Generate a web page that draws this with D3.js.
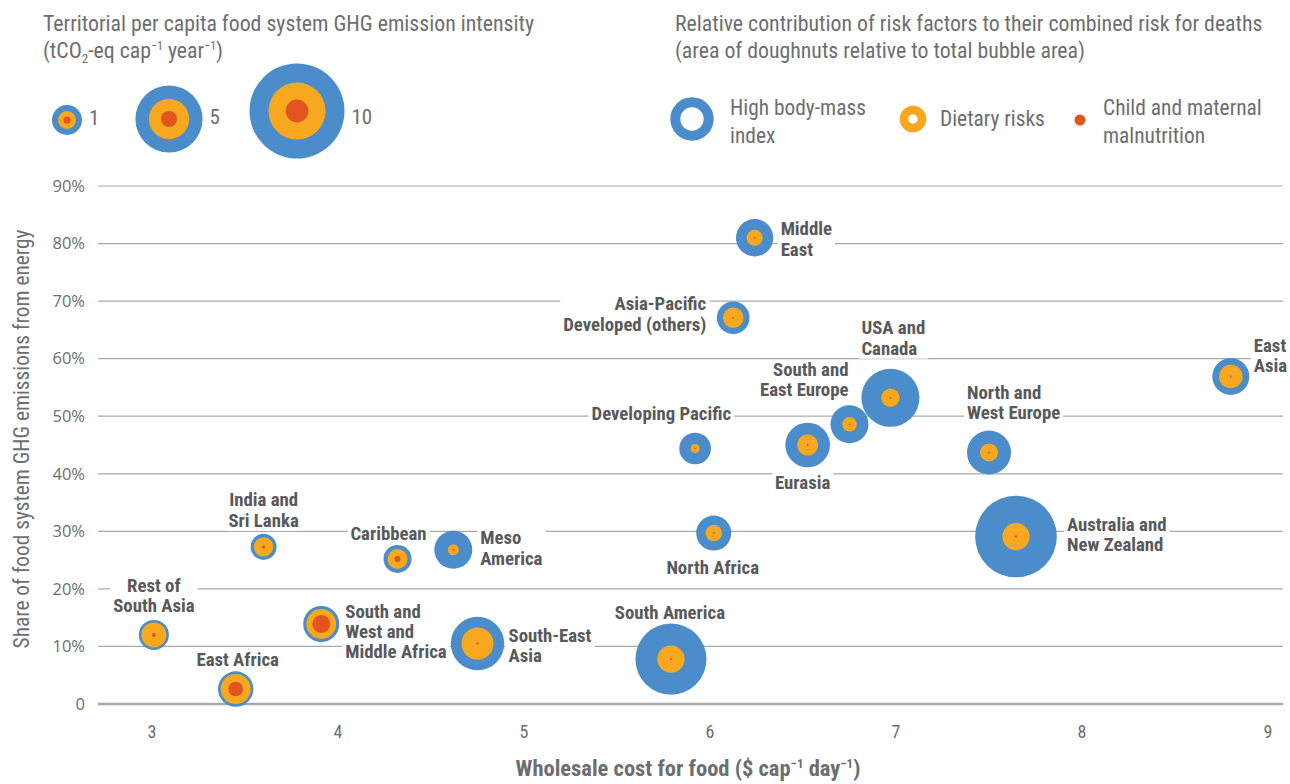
<!DOCTYPE html>
<html><head><meta charset="utf-8">
<script src="https://cdn.jsdelivr.net/npm/d3@7"></script>
<style>
body{margin:0;background:#fff;}
svg{display:block;font-family:"Liberation Sans Narrow","Roboto Condensed","DejaVu Sans Condensed","Open Sans",sans-serif;}
</style></head>
<body><svg id="c" width="1290" height="784"></svg>
<script>
// ---- data ----
const regions = ["Rest of South Asia","East Africa","India and Sri Lanka","Caribbean","Meso America",
 "South and West and Middle Africa","South-East Asia","South America","Middle East","Asia-Pacific Developed (others)",
 "Developing Pacific","USA and Canada","South and East Europe","Eurasia","North Africa","North and West Europe",
 "Australia and New Zealand","East Asia"];
const wholesaleCost = [3.01,3.45,3.60,4.32,4.62,3.91,4.75,5.79,6.24,6.125,5.92,6.97,6.75,6.525,6.02,7.50,7.645,8.80];
const energyShare = [12.0,2.6,27.3,25.2,26.8,13.9,10.5,7.8,81.0,67.1,44.4,53.2,48.6,45.0,29.7,43.7,29.1,56.9];
const emissionIntensity = [1.0,1.39,0.75,0.87,1.6,1.44,3.17,5.6,1.55,1.18,1.11,3.74,1.6,2.21,1.36,2.15,7.4,1.52];
// area shares of the three risk factors (sum = 1)
const shareBMI     = [0.31,0.28,0.44,0.49,0.916,0.31,0.64,0.851,0.817,0.60,0.917,0.899,0.856,0.779,0.777,0.833,0.889,0.593];
const shareDietary = [0.672,0.55,0.545,0.464,0.081,0.44,0.358,0.148,0.18,0.397,0.08,0.1,0.142,0.22,0.22,0.165,0.11,0.405];
const shareChild   = [0.018,0.17,0.015,0.046,0.003,0.25,0.002,0.001,0.003,0.003,0.003,0.001,0.002,0.001,0.003,0.002,0.001,0.002];
const labelLines = [["Rest of","South Asia"],["East Africa"],["India and","Sri Lanka"],["Caribbean"],["Meso","America"],
 ["South and","West and","Middle Africa"],["South-East","Asia"],["South America"],["Middle","East"],["Asia-Pacific","Developed (others)"],
 ["Developing Pacific"],["USA and","Canada"],["South and","East Europe"],["Eurasia"],["North Africa"],["North and","West Europe"],
 ["Australia and","New Zealand"],["East","Asia"]];
const xTicks = [3,4,5,6,7,8,9];
const yTicks = [0,10,20,30,40,50,60,70,80,90];
const legendSizes = [1,5,10];
const legendSizeLabels = ["1","5","10"];
const legendRiskNames = [["High body-mass","index"],["Dietary risks"],["Child and maternal","malnutrition"]];

// ---- label placement (layout) ----
const labelPlace = [
 ["middle",0,-50],["middle",2,-30],["middle",0,-47],["middle",-9,-26],["start",27,-12],
 ["start",24,-13],["start",31,-8],["middle",-1,-47],["start",26,-9],["end",-27,-14],
 ["end",36,-35],["start",-29,-70],["end",-1,-55],["middle",-5,37],["middle",-1,34],["start",-22,-60],
 ["start",51,-12],["start",23,-31]];

const BLUE="#4a8dca", ORANGE="#f7a81f", RED="#e4541f", TXT="#58595b", AX="#6d6e71";
const svg = d3.select("#c");
const x = d3.scaleLinear().domain([3,9]).range([152,1268]);
const y = d3.scaleLinear().domain([0,90]).range([704,186]);
const r = d3.scaleSqrt().domain([0,10]).range([0,47.5]);
const L = 98, R = 1283;

// gridlines
svg.append("g").selectAll("line").data(yTicks.filter(d=>d>0)).join("line")
  .attr("x1",L).attr("x2",R).attr("y1",d=>y(d)).attr("y2",d=>y(d))
  .attr("stroke","#a7a9ac").attr("stroke-width",1.2);
svg.append("line").attr("x1",L).attr("x2",R).attr("y1",y(0)).attr("y2",y(0))
  .attr("stroke","#a7a9ac").attr("stroke-width",2.5);

// y tick labels
svg.append("g").selectAll("text").data(yTicks).join("text")
  .attr("x",85).attr("y",d=>y(d)).attr("dy","0.35em").attr("text-anchor","end")
  .attr("fill",AX).style("font-family","'Open Sans',sans-serif").style("font-size","16.5px").text(d=>d===0?"0":d+"%");
// x tick labels
svg.append("g").selectAll("text").data(xTicks).join("text")
  .attr("x",d=>x(d)).attr("y",732).attr("dy","0.35em").attr("text-anchor","middle")
  .attr("fill",AX).style("font-size","18px").text(d=>d);

// axis titles
const xt = svg.append("text").attr("x",688).attr("y",776).attr("text-anchor","middle")
  .attr("fill",AX).style("font-size","22.5px").style("font-weight","bold");
xt.append("tspan").text("Wholesale cost for food ($ cap");
xt.append("tspan").attr("dy",-8).style("font-size","13px").text("\u22121");
xt.append("tspan").attr("dy",8).text(" day");
xt.append("tspan").attr("dy",-8).style("font-size","13px").text("\u22121");
xt.append("tspan").attr("dy",8).text(")");
svg.append("text").attr("transform","translate(29,439) rotate(-90)").attr("text-anchor","middle")
  .attr("fill",AX).style("font-size","21.3px").text("Share of food system GHG emissions from energy");

// labels with white background
const data = regions.map((n,i)=>({n,i,cx:x(wholesaleCost[i]),cy:y(energyShare[i]),R:r(emissionIntensity[i]),
  od:Math.sqrt(shareDietary[i]+shareChild[i]),rd:Math.sqrt(shareChild[i])}));
const lg = svg.append("g");
data.forEach(d=>{
  const [anc,dx,dy] = labelPlace[d.i];
  const g = lg.append("g");
  const bg = g.append("rect").attr("fill","#fff");
  const t = g.append("text").attr("text-anchor",anc).attr("fill",TXT)
    .style("font-size","18.8px").style("font-weight","bold");
  labelLines[d.i].forEach((ln,k)=>{
    t.append("tspan").attr("x",d.cx+dx).attr("y",d.cy+dy+k*20.3).attr("dy","0.35em").text(ln);
  });
  const b = t.node().getBBox();
  bg.attr("x",b.x-3).attr("y",b.y+1).attr("width",b.width+6).attr("height",b.height-2);
});

// bubbles
const bg2 = svg.append("g");
const sorted = data.slice().sort((a,b)=>b.R-a.R);
bg2.selectAll("g").data(sorted).join("g").each(function(d){
  const g = d3.select(this);
  g.append("circle").attr("cx",d.cx).attr("cy",d.cy).attr("r",d.R).attr("fill",BLUE);
  g.append("circle").attr("cx",d.cx).attr("cy",d.cy).attr("r",d.R*d.od).attr("fill",ORANGE);
  g.append("circle").attr("cx",d.cx).attr("cy",d.cy).attr("r",Math.max(d.R*d.rd,0.9)).attr("fill",RED);
});

// legend 1: sizes
const TS = "21.8px";
svg.append("text").attr("x",43).attr("y",31).attr("fill",AX).style("font-size",TS)
  .text("Territorial per capita food system GHG emission intensity");
const t2 = svg.append("text").attr("x",43).attr("y",58).attr("fill",AX).style("font-size",TS);
t2.append("tspan").text("(tCO");
t2.append("tspan").attr("dy",5).style("font-size","13px").text("2");
t2.append("tspan").attr("dy",-5).text("-eq cap");
t2.append("tspan").attr("dy",-8).style("font-size","12px").text("\u22121");
t2.append("tspan").attr("dy",8).text(" year");
t2.append("tspan").attr("dy",-8).style("font-size","12px").text("\u22121");
t2.append("tspan").attr("dy",8).text(")");
const legCx = [67,169,297], legCy=[120,119,111];
legendSizes.forEach((v,i)=>{
  const rr = r(v);
  svg.append("circle").attr("cx",legCx[i]).attr("cy",legCy[i]).attr("r",rr).attr("fill",BLUE);
  svg.append("circle").attr("cx",legCx[i]).attr("cy",legCy[i]).attr("r",rr*0.6).attr("fill",ORANGE);
  svg.append("circle").attr("cx",legCx[i]).attr("cy",legCy[i]).attr("r",rr*0.24).attr("fill",RED);
  svg.append("text").attr("x",legCx[i]+rr+7).attr("y",legCy[i]+(i==2?6:-2)).attr("dy","0.35em")
    .attr("fill",AX).style("font-size","21px").text(legendSizeLabels[i]);
});

// legend 2: risk factors
svg.append("text").attr("x",675).attr("y",31).attr("fill",AX).style("font-size",TS)
  .text("Relative contribution of risk factors to their combined risk for deaths");
svg.append("text").attr("x",675).attr("y",58).attr("fill",AX).style("font-size",TS)
  .text("(area of doughnuts relative to total bubble area)");
svg.append("circle").attr("cx",692).attr("cy",119).attr("r",16.7).attr("fill","none").attr("stroke",BLUE).attr("stroke-width",10);
svg.append("circle").attr("cx",913).attr("cy",119).attr("r",9).attr("fill","none").attr("stroke",ORANGE).attr("stroke-width",8.6);
svg.append("circle").attr("cx",1080).attr("cy",120).attr("r",5.5).attr("fill",RED);
const legTX=[730,940,1103];
legendRiskNames.forEach((lines,i)=>{
  const t = svg.append("text").attr("fill",AX).style("font-size","21.4px");
  lines.forEach((ln,k)=>{
    t.append("tspan").attr("x",legTX[i]).attr("y",(lines.length===1?119:108)+k*28).attr("dy","0.35em").text(ln);
  });
});
</script></body></html>
